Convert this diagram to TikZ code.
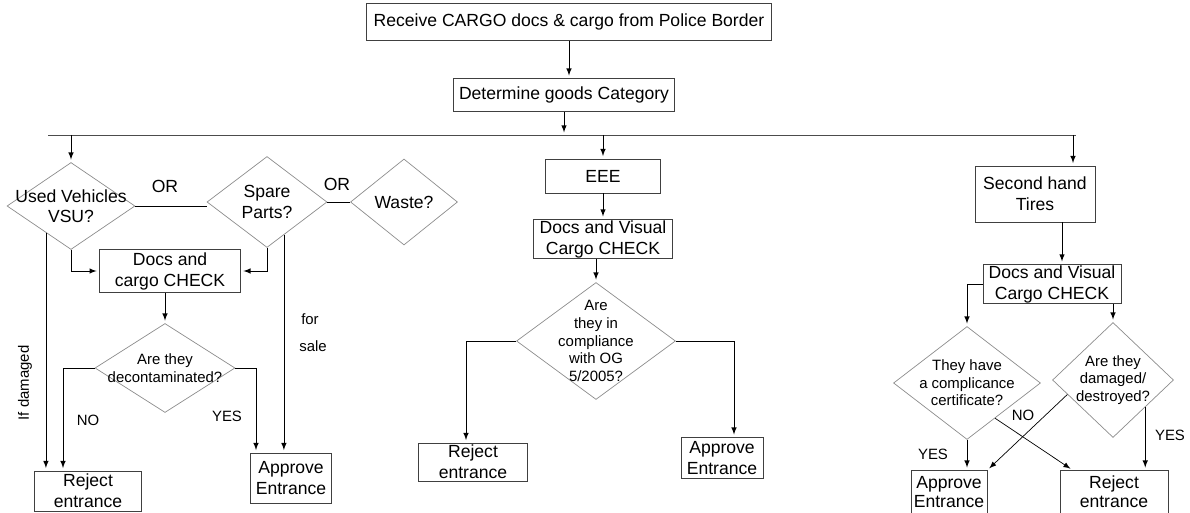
\documentclass[tikz,border=0pt]{standalone}
\usepackage{fontspec}
\setmainfont{Liberation Sans}
\usetikzlibrary{calc,shapes.geometric,arrows}

\tikzset{
  box/.style={draw=black!75, rectangle, inner xsep=1pt, inner ysep=0.5pt, align=center, font=\fontsize{10}{12}\selectfont},
  dia/.style={draw=black!45, diamond, inner sep=0pt},
  diatext/.style={align=center, inner sep=0pt, font=\fontsize{8.5}{10}\selectfont},
  bigtext/.style={align=center, inner sep=0pt, font=\fontsize{10}{11.5}\selectfont},
  lab/.style={inner sep=0pt, font=\fontsize{8.5}{10}\selectfont},
  link/.style={->, >=latex, shorten >=1.5pt},
}

\begin{document}
\begin{tikzpicture}[x=0.02cm, y=-0.02cm]
            \useasboundingbox (0,0) rectangle (1190,513);

            % top of the flow
            \node[box, minimum width=8.1cm, minimum height=0.74cm] (recv) at (569,22) {Receive CARGO docs \& cargo from Police Border};
            \node[box, minimum width=4.42cm, minimum height=0.66cm] (cat) at (564,95) {Determine goods Category};
            \coordinate (barL) at (48,135);
            \coordinate (barR) at (1076,135);
            \coordinate (tiresIn) at (1073,135);

            % used vehicles / spare parts / waste
            \node[dia, minimum width=2.56cm, minimum height=1.74cm, label={[bigtext]center:{Used Vehicles\\VSU?}}] (vsu) at (71,206) {};
            \node[dia, minimum width=2.4cm, minimum height=1.82cm, label={[bigtext]center:{Spare\\Parts?}}] (spare) at (267,202) {};
            \node[dia, minimum width=2.14cm, minimum height=1.72cm, label={[bigtext]center:{Waste?}}] (waste) at (404,202) {};
            \node[box, minimum width=2.82cm, minimum height=0.86cm] (docsC) at (170,271) {Docs and\\cargo CHECK};
            \node[dia, minimum width=2.8cm, minimum height=1.78cm, label={[diatext]center:{Are they\\decontaminated?}}] (deco) at (165,368) {};
            \node[box, minimum width=2.14cm, minimum height=0.8cm] (rejL) at (88,491) {Reject\\entrance};
            \node[box, minimum width=1.62cm, minimum height=1.0cm] (appL) at (291,478) {Approve\\Entrance};

            % EEE
            \node[box, minimum width=2.3cm, minimum height=0.68cm] (eee) at (603,176) {EEE};
            \node[box, minimum width=2.78cm, minimum height=0.74cm] (docsM) at (603,239) {Docs and Visual\\Cargo CHECK};
            \node[dia, minimum width=3.18cm, minimum height=2.34cm, label={[diatext]center:{Are\\they in\\compliance\\with OG\\5/2005?}}] (comp) at (596,341) {};
            \node[box, minimum width=2.18cm, minimum height=0.76cm] (rejM) at (473,462) {Reject\\entrance};
            \node[box, minimum width=1.64cm, minimum height=0.82cm] (appM) at (722,458) {Approve\\Entrance};

            % second hand tires
            \node[box, minimum width=2.4cm, minimum height=1.12cm] (tires) at (1035,194) {Second hand\\Tires};
            \node[box, minimum width=2.76cm, minimum height=0.76cm] (docsR) at (1052,284) {Docs and Visual\\Cargo CHECK};
            \node[dia, minimum width=2.94cm, minimum height=2.26cm, label={[diatext]center:{They have\\a complicance\\certificate?}}] (have) at (967,383) {};
            \node[dia, minimum width=2.42cm, minimum height=2.3cm, label={[diatext]center:{Are they\\damaged/\\destroyed?}}] (dmgd) at (1113,380) {};
            \node[box, minimum width=1.52cm, minimum height=0.86cm, font=\fontsize{10}{11}\selectfont] (appR) at (949,492) {Approve\\Entrance};
            \node[box, minimum width=2.16cm, minimum height=0.86cm, font=\fontsize{10}{11}\selectfont] (rejR) at (1114,492) {Reject\\entrance};

            % free labels
            \node[bigtext] (or1) at (165,186) {OR};
            \node[bigtext] (or2) at (337,184) {OR};
            \node[lab] (forL) at (310,319) {for};
            \node[lab] (saleL) at (313,346) {sale};
            \node[lab, rotate=90] (dmgL) at (25,383) {If damaged};
            \node[lab] (noL) at (88,420) {NO};
            \node[lab] (yesL) at (227,416) {YES};
            \node[lab] (noR) at (1023,415) {NO};
            \node[lab] (yesR1) at (933,454) {YES};
            \node[lab] (yesR2) at (1170,435) {YES};

            % connectors
            \draw[link] (recv.south) -- (recv.south |- cat.north);
            \draw[link] (cat.south) -- (cat.south |- barL);
            \draw[black!70] (barL) -- (barR);
            \draw[link] (vsu.north |- barL) -- (vsu.north);
            \draw[link] (eee.north |- barL) -- (eee.north);
            \draw[link] (tiresIn) -- (tiresIn |- tires.north);

            \draw (vsu.east) -- (vsu.east -| spare.west);
            \draw (spare.east) -- (waste.west);
            \draw[link] (vsu.south) |- (docsC.west);
            \draw[link] (spare.south) |- (docsC.east);
            \coordinate (vsuOut) at ($(vsu.south)!0.39!(vsu.west)$);
            \draw[link] (vsuOut) -- (vsuOut |- rejL.north);
            \coordinate (spareOut) at ($(spare.south)!0.28!(spare.east)$);
            \draw[link] (spareOut) -- (spareOut |- appL.north);
            \draw[link] (docsC.south -| deco.north) -- (deco.north);
            \draw[link] (deco.west) -| ($(rejL.north)+(-25,0)$);
            \draw[link] (deco.east) -| ($(appL.north)+(-35,0)$);

            \draw[link] (eee) -- (docsM);
            \draw[link] (docsM.south -| comp.north) -- (comp.north);
            \draw[link] (comp.west) -| ($(rejM.north)+(-7,0)$);
            \draw[link] (comp.east) -| ($(appM.north)+(12,0)$);

            \coordinate (tiresOut) at ($(tires.south)+(27,0)$);
            \draw[link] (tiresOut) -- (tiresOut |- docsR.north);
            \draw[link] (docsR.west) -| (have.north);
            \draw[link] (docsR.south -| dmgd.north) -- (dmgd.north);
            \draw[link] (have.south) -- (have.south |- appR.north);
            \coordinate (haveOut) at ($(have.south)!0.38!(have.east)$);
            \draw[link] (haveOut) -- ($(rejR.north west)+(13,0)$);
            \coordinate (dmgdOut) at ($(dmgd.south)!0.75!(dmgd.west)$);
            \draw[link] (dmgdOut) -- (appR.north east);
            \coordinate (dmgdDown) at ($(dmgd.south)!0.53!(dmgd.east)$);
            \draw[link] (dmgdDown) -- (dmgdDown |- rejR.north);

\end{tikzpicture}
\end{document}
